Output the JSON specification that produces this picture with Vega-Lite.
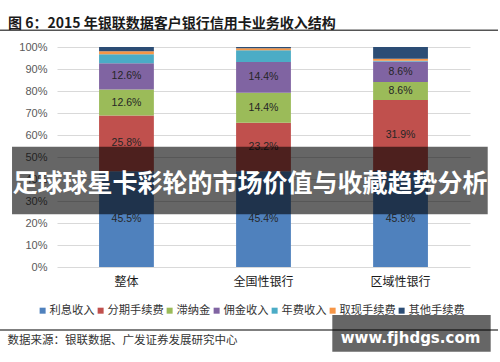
{
  "$schema": "https://vega.github.io/schema/vega-lite/v6.json",
  "width": 413,
  "height": 220,
  "autosize": {"type": "none"},
  "padding": {"left": 57, "top": 47, "right": 30, "bottom": 95},
  "background": "white",
  "config": {
    "view": {"stroke": null},
    "font": "Noto Sans CJK SC"
  },
  "title": {
    "text": "图 6：2015 年银联数据客户银行信用卡业务收入结构",
    "anchor": "start",
    "frame": "group",
    "dx": -49,
    "offset": -1,
    "fontSize": 14,
    "fontWeight": "bold",
    "color": "#1a1a1a",
    "font": "Noto Sans CJK SC"
  },
  "datasets": {
    "income": [
      {"group": "整体", "series": "利息收入", "rank": 1, "value": 43.4, "label": "45.5%"},
      {"group": "整体", "series": "分期手续费", "rank": 2, "value": 25.3, "label": "25.8%"},
      {"group": "整体", "series": "滞纳金", "rank": 3, "value": 11.8, "label": "12.6%"},
      {"group": "整体", "series": "佣金收入", "rank": 4, "value": 11.9, "label": "12.6%"},
      {"group": "整体", "series": "年费收入", "rank": 5, "value": 4.1, "label": ""},
      {"group": "整体", "series": "取现手续费", "rank": 6, "value": 1.4, "label": ""},
      {"group": "整体", "series": "其他手续费", "rank": 7, "value": 1.9, "label": ""},
      {"group": "全国性银行", "series": "利息收入", "rank": 1, "value": 43.4, "label": "45.4%"},
      {"group": "全国性银行", "series": "分期手续费", "rank": 2, "value": 22.0, "label": "23.2%"},
      {"group": "全国性银行", "series": "滞纳金", "rank": 3, "value": 13.6, "label": "14.4%"},
      {"group": "全国性银行", "series": "佣金收入", "rank": 4, "value": 14.0, "label": "14.4%"},
      {"group": "全国性银行", "series": "年费收入", "rank": 5, "value": 5.3, "label": ""},
      {"group": "全国性银行", "series": "取现手续费", "rank": 6, "value": 0.9, "label": ""},
      {"group": "全国性银行", "series": "其他手续费", "rank": 7, "value": 0.6, "label": ""},
      {"group": "区域性银行", "series": "利息收入", "rank": 1, "value": 43.4, "label": "45.8%"},
      {"group": "区域性银行", "series": "分期手续费", "rank": 2, "value": 32.1, "label": "31.9%"},
      {"group": "区域性银行", "series": "滞纳金", "rank": 3, "value": 8.1, "label": "8.6%"},
      {"group": "区域性银行", "series": "佣金收入", "rank": 4, "value": 9.2, "label": "8.6%"},
      {"group": "区域性银行", "series": "年费收入", "rank": 5, "value": 0.4, "label": ""},
      {"group": "区域性银行", "series": "取现手续费", "rank": 6, "value": 0.9, "label": ""},
      {"group": "区域性银行", "series": "其他手续费", "rank": 7, "value": 5.3, "label": ""}
    ],
    "banner": [{"t": "足球球星卡彩轮的市场价值与收藏趋势分析"}],
    "site": [{"t": "www.fjhdgs.com"}],
    "source": [{"t": "数据来源：银联数据、广发证券发展研究中心"}]
  },
  "resolve": {"scale": {"x": "independent", "y": "independent"}, "axis": {"x": "independent", "y": "independent"}},
  "layer": [
    {
      "data": {"name": "income"},
      "encoding": {
        "x": {
          "field": "group",
          "type": "nominal",
          "sort": ["整体", "全国性银行", "区域性银行"],
          "scale": {"paddingInner": 0.6, "paddingOuter": 0.307},
          "axis": {
            "title": null,
            "labelAngle": 0,
            "labelFontSize": 12,
            "labelColor": "#1a1a1a",
            "labelPadding": 9,
            "ticks": false,
            "domain": false,
            "labelFont": "Noto Sans CJK SC"
          }
        },
        "y": {
          "field": "value",
          "type": "quantitative",
          "stack": "normalize",
          "axis": {
            "title": null,
            "format": ".0%",
            "values": [0, 0.1, 0.2, 0.3, 0.4, 0.5, 0.6, 0.7, 0.8, 0.9, 1],
            "labelFontSize": 11,
            "labelColor": "#595959",
            "labelPadding": 10,
            "labelFont": "Liberation Sans",
            "ticks": false,
            "domain": false,
            "gridColor": "#d9d9d9",
            "gridWidth": 1
          }
        },
        "order": {"field": "rank", "type": "quantitative", "sort": "ascending"},
        "color": {
          "field": "series",
          "type": "nominal",
          "sort": ["利息收入", "分期手续费", "滞纳金", "佣金收入", "年费收入", "取现手续费", "其他手续费"],
          "scale": {
            "domain": ["利息收入", "分期手续费", "滞纳金", "佣金收入", "年费收入", "取现手续费", "其他手续费"],
            "range": ["#4f81bd", "#c0504d", "#9bbb59", "#8064a2", "#4bacc6", "#f79646", "#2c4d75"]
          },
          "legend": {
            "title": null,
            "orient": "none",
            "legendX": -20,
            "legendY": 258,
            "direction": "horizontal",
            "columns": 7,
            "symbolType": "square",
            "symbolSize": 36,
            "symbolStrokeWidth": 0,
            "labelFontSize": 11.25,
            "labelColor": "#333333",
            "labelFont": "Noto Sans CJK SC",
            "labelOffset": 1.3,
            "columnPadding": 0,
            "padding": 0
          }
        }
      },
      "layer": [
        {"mark": {"type": "bar"}},
        {
          "mark": {"type": "text", "fontSize": 10.5, "font": "Liberation Sans", "baseline": "middle"},
          "encoding": {
            "y": {"field": "value", "type": "quantitative", "stack": "normalize", "bandPosition": 0.5},
            "text": {"field": "label"},
            "fill": {"value": "#262626"}
          }
        }
      ]
    },
    {
      "layer": [
        {
          "data": {"name": "source"},
          "mark": {"type": "rule", "stroke": "#555555", "strokeWidth": 1.4},
          "encoding": {
            "x": {"datum": -0.138, "type": "quantitative", "scale": {"domain": [0, 1], "nice": false, "zero": false}, "axis": null},
            "x2": {"datum": 1.0678},
            "y": {"datum": 1.0759, "type": "quantitative", "scale": {"domain": [0, 1], "nice": false, "zero": false}, "axis": null}
          }
        },
        {
          "data": {"name": "source"},
          "mark": {"type": "rule", "stroke": "#555555", "strokeWidth": 1.4},
          "encoding": {
            "x": {"datum": -0.138, "type": "quantitative", "scale": {"domain": [0, 1], "nice": false, "zero": false}, "axis": null},
            "x2": {"datum": 1.0678},
            "y": {"datum": -0.2864, "type": "quantitative", "scale": {"domain": [0, 1], "nice": false, "zero": false}, "axis": null}
          }
        },
        {
          "data": {"name": "source"},
          "mark": {"type": "text", "align": "left", "baseline": "middle", "fontSize": 11.5, "color": "#333333", "font": "Noto Sans CJK SC"},
          "encoding": {
            "x": {"datum": -0.1199, "type": "quantitative", "scale": {"domain": [0, 1], "nice": false, "zero": false}, "axis": null},
            "y": {"datum": -0.335, "type": "quantitative", "scale": {"domain": [0, 1], "nice": false, "zero": false}, "axis": null},
            "text": {"field": "t"}
          }
        },
        {
          "data": {"name": "banner"},
          "mark": {"type": "rect", "fill": "#000000", "fillOpacity": 0.6},
          "encoding": {
            "x": {"datum": -0.1089, "type": "quantitative", "scale": {"domain": [0, 1], "nice": false, "zero": false}, "axis": null},
            "x2": {"datum": 1.0429},
            "y": {"datum": 0.5468, "type": "quantitative", "scale": {"domain": [0, 1], "nice": false, "zero": false}, "axis": null},
            "y2": {"datum": 0.2395}
          }
        },
        {
          "data": {"name": "banner"},
          "mark": {"type": "text", "align": "center", "baseline": "middle", "fontSize": 25, "fontWeight": "bold", "color": "#ffffff", "font": "Noto Sans CJK SC"},
          "encoding": {
            "x": {"datum": 0.4673, "type": "quantitative", "scale": {"domain": [0, 1], "nice": false, "zero": false}, "axis": null},
            "y": {"datum": 0.3773, "type": "quantitative", "scale": {"domain": [0, 1], "nice": false, "zero": false}, "axis": null},
            "text": {"field": "t"}
          }
        },
        {
          "data": {"name": "site"},
          "mark": {"type": "rect", "fill": "#000000", "fillOpacity": 0.6},
          "encoding": {
            "x": {"datum": 0.6666, "type": "quantitative", "scale": {"domain": [0, 1], "nice": false, "zero": false}, "axis": null},
            "x2": {"datum": 1.0501},
            "y": {"datum": -0.2182, "type": "quantitative", "scale": {"domain": [0, 1], "nice": false, "zero": false}, "axis": null},
            "y2": {"datum": -0.385}
          }
        },
        {
          "data": {"name": "site"},
          "mark": {"type": "text", "align": "center", "baseline": "alphabetic", "fontSize": 15, "fontWeight": "bold", "color": "#ffffff", "font": "DejaVu Sans"},
          "encoding": {
            "x": {"datum": 0.856, "type": "quantitative", "scale": {"domain": [0, 1], "nice": false, "zero": false}, "axis": null},
            "y": {"datum": -0.3441, "type": "quantitative", "scale": {"domain": [0, 1], "nice": false, "zero": false}, "axis": null},
            "text": {"field": "t"}
          }
        }
      ]
    }
  ]
}
